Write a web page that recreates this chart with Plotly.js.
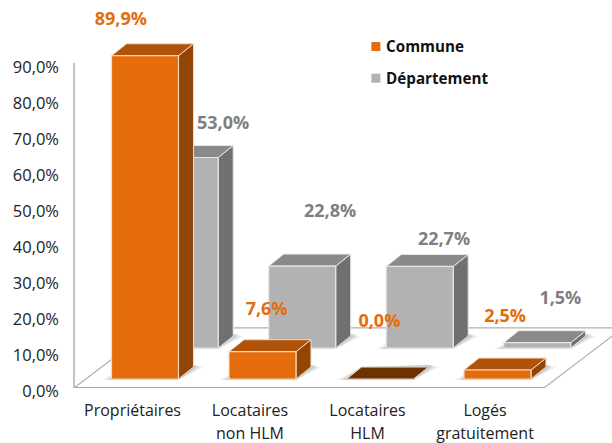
<!DOCTYPE html>
<html><head><meta charset="utf-8">
<script src="https://cdn.plot.ly/plotly-3.0.1.min.js"></script>
<style>html,body{margin:0;padding:0;background:#fff}</style>
</head><body><div id="chart" style="width:612px;height:443px"></div>
<script>
const categories = ["Propriétaires","Locataires\nnon HLM","Locataires\nHLM","Logés\ngratuitement"];
const commune = [89.9, 7.6, 0.0, 2.5];
const departement = [53.0, 22.8, 22.7, 1.5];
const yTicks = [0,10,20,30,40,50,60,70,80,90];
const fmt = v => v.toFixed(1).replace(".",",")+"%";

// Oblique projection, expressed in axis units (1 category = 117.5px, 1 % = 3.6px)
const BAR_W = 0.57, DX = 0.1277, DY = 3.33;
const FLOOR = {x0:-0.319, x1:3.68, dx:0.672, dy:16.7};
const SERIES = [
  {name:"Département", vals:departement, xo:0.338, base:11.1, front:"#b2b2b2", top:"#8a8a8a", side:"#707070", zero:"#555555", edge:"#e6e6e6", label:"#7f7f7f",
   lx:[0.95,1.86,2.83,3.82], ly:[73.3,48.9,41.0,24.7]},
  {name:"Commune", vals:commune, xo:0, base:2.5, front:"#e46c0a", top:"#b05308", side:"#934504", zero:"#6b3300", edge:"#f2d9c2", label:"#e46c0a",
   lx:[0.08,1.32,2.28,3.35], ly:[102.2,21.6,18.3,19.7]}
];
const traces = [];
const poly = (xs,ys,fill,line,w) => ({type:"scatter",mode:"lines",x:xs,y:ys,fill:"toself",fillcolor:fill,
  line:{color:line,width:w},hoverinfo:"skip",showlegend:false});

traces.push(poly(
  [FLOOR.x0,FLOOR.x1,FLOOR.x1+FLOOR.dx,FLOOR.x0+FLOOR.dx,FLOOR.x0],
  [0,0,FLOOR.dy,FLOOR.dy,0],"#ffffff","#b0b0b0",1.2));
traces.push({type:"scatter",mode:"lines",x:[FLOOR.x0,FLOOR.x1],y:[0,0],line:{color:"#a6a6a6",width:2},hoverinfo:"skip",showlegend:false});
traces.push({type:"scatter",mode:"lines",x:[FLOOR.x0,FLOOR.x0],y:[0,90.4],line:{color:"#b0b0b0",width:1.5},hoverinfo:"skip",showlegend:false});

const shadow = (x0,x1,b,g,a) => poly(
  [x0-g,x1,x1+DX+g,x1+DX+g*0.4,x0+DX,x0-g],
  [b-0.25,b-0.25,b+DY-0.1,b+DY+0.6,b+DY,b-0.25],`rgba(90,90,90,${a})`,"rgba(0,0,0,0)",0);

SERIES.forEach(s=>{
  s.vals.forEach((v,i)=>{
    const x0=i+s.xo, x1=x0+BAR_W, b=s.base, t=b+v;
    traces.push(shadow(x0,x1,b,0.08,0.10));
    traces.push(shadow(x0,x1,b,0.05,0.12));
    traces.push(shadow(x0,x1,b,0.02,0.16));
    if(v>0){
      traces.push(poly([x1,x1+DX,x1+DX,x1,x1],[b,b+DY,t+DY,t,b],s.side,s.edge,1));
      traces.push(poly([x0,x1,x1+DX,x0+DX,x0],[t,t,t+DY,t+DY,t],s.top,s.edge,1));
      traces.push(poly([x0,x1,x1,x0,x0],[b,b,t,t,b],s.front,s.edge,1.2));
    } else {
      traces.push(poly([x0,x1,x1+DX,x0+DX,x0],[t,t,t+DY,t+DY,t],s.zero,s.edge,1));
    }
  });
});
SERIES.forEach(s=>{
  traces.push({type:"scatter",mode:"text",x:s.lx,y:s.ly,
    text:s.vals.map(fmt),
    textposition:"middle center",textfont:{family:"Open Sans",size:18,color:s.label,weight:700},
    hoverinfo:"skip",showlegend:false,cliponaxis:false});
});
[["Commune","#e46c0a",94.95,94.5],["Département","#b2b2b2",86.15,85.5]].forEach(k=>{
  traces.push({type:"scatter",mode:"markers",x:[2.25],y:[k[2]],
    marker:{symbol:"square",size:9,color:k[1]},hoverinfo:"skip",showlegend:false,cliponaxis:false});
  traces.push({type:"scatter",mode:"text",x:[2.337],y:[k[3]],text:[k[0]],textposition:"middle right",
    textfont:{family:"Open Sans",size:15.2,color:"#111111",weight:700},hoverinfo:"skip",showlegend:false,cliponaxis:false});
});

const fs=16;
const layout = {
  width:612,height:443,paper_bgcolor:"#fff",plot_bgcolor:"#fff",showlegend:false,
  margin:{l:60,r:0,t:0,b:54.5,pad:0},
  font:{family:"Open Sans",color:"#222222",size:fs},
  xaxis:{range:[(60-111.5)/117.5,(612-111.5)/117.5],showgrid:false,zeroline:false,showline:false,
    tickmode:"array",tickvals:categories.map((c,i)=>i+0.179),
    ticktext:categories.map(c=>c.split("\n").map(l=>`<span style="font-size:${fs}px">${l}</span>`).join("<br>")),
    ticks:"outside",ticklen:6.5,tickcolor:"rgba(0,0,0,0)",tickfont:{family:"Open Sans",size:17.2,color:"#222222"},automargin:false,fixedrange:true},
  yaxis:{range:[0,107.9],showgrid:false,zeroline:false,showline:false,
    tickmode:"array",tickvals:yTicks,ticktext:yTicks.map(fmt),ticks:"",ticklabelshift:3,
    tickfont:{family:"Open Sans",size:16.5,color:"#222222"},automargin:false,fixedrange:true}
};
Plotly.newPlot("chart",traces,layout,{displayModeBar:false,staticPlot:true});
</script></body></html>
